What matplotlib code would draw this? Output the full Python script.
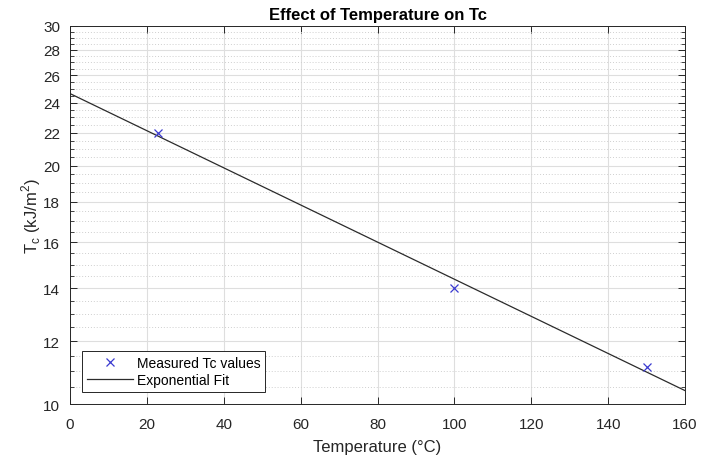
import numpy as np
import matplotlib
matplotlib.use("Agg")
import matplotlib.pyplot as plt
from matplotlib.ticker import FixedLocator, MultipleLocator, NullFormatter, FixedFormatter

# measured values
temperature = [23, 100, 150]        # degC
tc_values = [22.0, 14.0, 11.15]     # kJ/m^2

x_ticks = [0, 20, 40, 60, 80, 100, 120, 140, 160]
y_ticks = [10, 12, 14, 16, 18, 20, 22, 24, 26, 28, 30]

plt.rcParams["font.family"] = ["Liberation Sans", "DejaVu Sans"]

# exponential fit: ln(Tc) = ln(a) + b*T
b, ln_a = np.polyfit(temperature, np.log(tc_values), 1)
t_fit = np.linspace(0, 160, 200)
tc_fit = np.exp(ln_a) * np.exp(b * t_fit)

fig = plt.figure(figsize=(7.1, 4.56), dpi=100)
ax = fig.add_axes([0.0986, 0.1118, 0.8662, 0.829])

ax.plot(temperature, tc_values, "x", color="#3a3ad0", markersize=6,
        markeredgewidth=0.9, label="Measured Tc values", zorder=3)
ax.plot(t_fit, tc_fit, "-", color="#2b2b2b", linewidth=0.9,
        label="Exponential Fit", zorder=2)

ax.set_yscale("log")
ax.set_xlim(0, 160)
ax.set_ylim(10, 30)

ax.xaxis.set_major_locator(FixedLocator(x_ticks))
ax.yaxis.set_major_locator(FixedLocator(y_ticks))
ax.yaxis.set_major_formatter(FixedFormatter([str(v) for v in y_ticks]))
ax.yaxis.set_minor_locator(MultipleLocator(0.5))
ax.yaxis.set_minor_formatter(NullFormatter())

ax.grid(True, which="major", color="#dedede", linewidth=0.8, linestyle="-")
ax.grid(True, which="minor", axis="y", color="#cfcfcf", linewidth=0.7,
        linestyle=(0, (1, 2)))
ax.set_axisbelow(True)

ax.tick_params(which="both", direction="in", top=True, right=True,
               colors="#262626", labelsize=11)
ax.tick_params(which="major", length=5, width=0.7)
ax.tick_params(which="minor", length=3, width=0.6)
ax.tick_params(axis="x", pad=9)
ax.tick_params(axis="y", pad=7)
for s in ax.spines.values():
    s.set_color("#262626")
    s.set_linewidth(0.7)

ax.set_xlabel("Temperature (\u00b0C)", fontsize=12, color="#262626",
              labelpad=6)
ax.set_ylabel(r"T$_\mathregular{c}$ (kJ/m$^\mathregular{2}$)", fontsize=12,
              color="#262626", labelpad=0)
ax.set_title("Effect of Temperature on Tc", fontsize=12, fontweight="bold",
             pad=5)

leg = ax.legend(loc="lower left", fontsize=10, frameon=True, fancybox=False,
                edgecolor="#262626", framealpha=1, borderaxespad=0.85,
                handlelength=3.3, handletextpad=0.3, borderpad=0.35,
                labelspacing=0.25)
leg.get_frame().set_linewidth(0.7)

fig.savefig("out.png", dpi=100)
